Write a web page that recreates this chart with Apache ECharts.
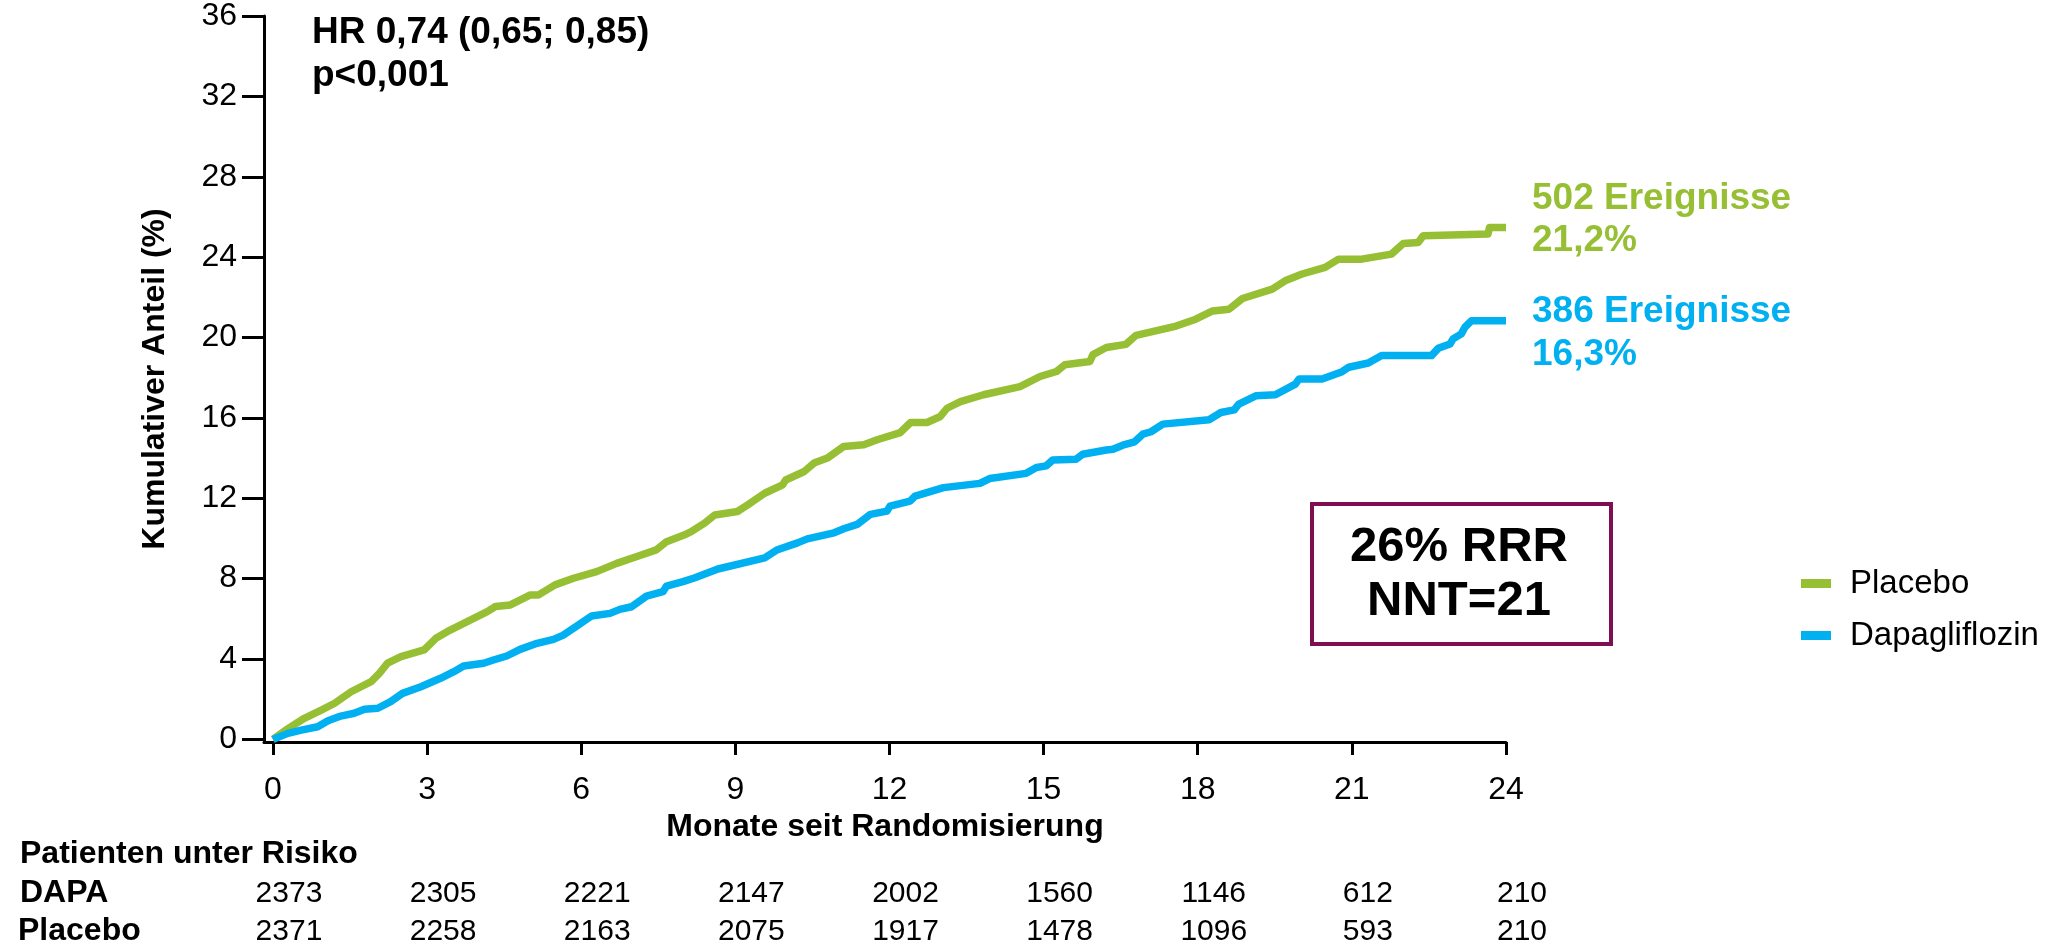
<!DOCTYPE html>
<html>
<head>
<meta charset="utf-8">
<script src="https://cdn.jsdelivr.net/npm/echarts@6/dist/echarts.min.js"></script>
<style>
  html, body { margin: 0; padding: 0; background: #ffffff; }
  #chart { width: 2054px; height: 947px; }
</style>
</head>
<body>
<div id="chart"></div>
<script>
// Tick positions on both axes
const monthTicks = [0, 3, 6, 9, 12, 15, 18, 21, 24];
const percentTicks = [0, 4, 8, 12, 16, 20, 24, 28, 32, 36];

// Cumulative incidence (%) over months since randomisation: [month, percent]
const placeboCurve = [
  [0, 0], [0.3, 0.55], [0.61, 1.05], [0.94, 1.46], [1.2, 1.8], [1.52, 2.37], [1.91, 2.87],
  [2.07, 3.29], [2.23, 3.79], [2.49, 4.12], [2.94, 4.45], [3.17, 5.03], [3.39, 5.36],
  [3.78, 5.86], [4.17, 6.36], [4.33, 6.61], [4.62, 6.69], [5.01, 7.19], [5.17, 7.19],
  [5.49, 7.69], [5.85, 8.02], [6.3, 8.35], [6.69, 8.76], [7.07, 9.09], [7.46, 9.43],
  [7.66, 9.84], [8.0, 10.17], [8.14, 10.34], [8.4, 10.76], [8.6, 11.17], [9.04, 11.34],
  [9.24, 11.67], [9.57, 12.25], [9.92, 12.67], [9.98, 12.91], [10.34, 13.33], [10.53, 13.75],
  [10.79, 14.0], [11.11, 14.58], [11.5, 14.66], [11.76, 14.91], [12.21, 15.27], [12.41, 15.77],
  [12.73, 15.77], [12.99, 16.07], [13.12, 16.48], [13.38, 16.81], [13.83, 17.15], [14.54, 17.56],
  [14.93, 18.06], [15.25, 18.31], [15.41, 18.64], [15.9, 18.81], [15.96, 19.15], [16.22, 19.5],
  [16.6, 19.66], [16.8, 20.11], [17.58, 20.57], [17.96, 20.91], [18.29, 21.32], [18.61, 21.41],
  [18.87, 21.94], [19.45, 22.41], [19.7, 22.82], [20.03, 23.16], [20.48, 23.49], [20.74, 23.9],
  [21.19, 23.9], [21.77, 24.15], [22.0, 24.68], [22.29, 24.73], [22.39, 25.07], [23.65, 25.15],
  [23.68, 25.48], [24.0, 25.48]
];
const dapaCurve = [
  [0, 0], [0.29, 0.3], [0.55, 0.46], [0.87, 0.63], [1.07, 0.93], [1.32, 1.16], [1.58, 1.3],
  [1.78, 1.5], [2.04, 1.55], [2.29, 1.88], [2.52, 2.29], [2.88, 2.62], [3.26, 3.04], [3.52, 3.37],
  [3.71, 3.65], [4.1, 3.79], [4.29, 3.95], [4.55, 4.15], [4.81, 4.48], [5.14, 4.78], [5.46, 4.98],
  [5.65, 5.19], [5.91, 5.64], [6.2, 6.14], [6.56, 6.27], [6.75, 6.47], [6.98, 6.6], [7.27, 7.13],
  [7.59, 7.35], [7.66, 7.63], [7.98, 7.85], [8.2, 8.03], [8.66, 8.48], [9.57, 9.03], [9.82, 9.44],
  [10.21, 9.78], [10.4, 9.98], [10.92, 10.28], [11.11, 10.48], [11.37, 10.7], [11.63, 11.2],
  [11.95, 11.36], [12.01, 11.61], [12.4, 11.86], [12.5, 12.11], [13.05, 12.53], [13.76, 12.74],
  [13.95, 12.98], [14.66, 13.24], [14.86, 13.53], [15.05, 13.61], [15.18, 13.91], [15.63, 13.94],
  [15.76, 14.19], [16.22, 14.4], [16.35, 14.44], [16.54, 14.64], [16.77, 14.81], [16.93, 15.19],
  [17.09, 15.31], [17.32, 15.69], [18.22, 15.91], [18.45, 16.27], [18.71, 16.4], [18.8, 16.69],
  [19.13, 17.1], [19.51, 17.15], [19.9, 17.68], [19.97, 17.93], [20.42, 17.93], [20.81, 18.3],
  [20.94, 18.52], [21.32, 18.73], [21.58, 19.1], [22.55, 19.1], [22.68, 19.46], [22.91, 19.68],
  [22.97, 19.93], [23.13, 20.18], [23.2, 20.51], [23.33, 20.84], [24.0, 20.84]
];

// Patients at risk at each tick month
const dapaAtRisk = [2373, 2305, 2221, 2147, 2002, 1560, 1146, 612, 210];
const placeboAtRisk = [2371, 2258, 2163, 2075, 1917, 1478, 1096, 593, 210];

const seriesNames = ['Placebo', 'Dapagliflozin'];
const GREEN = '#96bf33';
const BLUE = '#00b0f0';
const FONT = '"Liberation Sans", Arial, Helvetica, sans-serif';
const NARROW = '"Liberation Sans Narrow", "Arial Narrow", "Liberation Sans", Arial, sans-serif';

const chart = echarts.init(document.getElementById('chart'), null, { renderer: 'canvas' });

const axisLineStyle = { color: '#000', width: 3 };

chart.setOption({
  animation: false,
  backgroundColor: '#ffffff',
  textStyle: { fontFamily: FONT },
  grid: { left: 264, right: 548, top: 15, bottom: 205, containLabel: false },
  xAxis: {
    type: 'value',
    min: -0.175,
    max: 24,
    name: 'Monate seit Randomisierung',
    nameLocation: 'middle',
    nameGap: 68,
    nameTextStyle: { fontFamily: FONT, fontSize: 32, fontWeight: 'bold', color: '#000' },
    axisLine: { show: true, onZero: false, lineStyle: axisLineStyle },
    axisTick: { show: true, length: 13, lineStyle: axisLineStyle, customValues: monthTicks },
    axisLabel: { show: true, customValues: monthTicks, margin: 32, fontSize: 32, color: '#000', fontFamily: NARROW },
    splitLine: { show: false }
  },
  yAxis: {
    type: 'value',
    min: -0.13,
    max: 36,
    name: 'Kumulativer Anteil (%)',
    nameLocation: 'middle',
    nameGap: 93,
    nameTextStyle: { fontFamily: FONT, fontSize: 32, fontWeight: 'bold', color: '#000' },
    axisLine: { show: true, onZero: false, lineStyle: axisLineStyle },
    axisTick: { show: true, length: 22, lineStyle: axisLineStyle, customValues: percentTicks },
    axisLabel: { show: true, customValues: percentTicks, margin: 27, fontSize: 32, color: '#000', fontFamily: NARROW },
    splitLine: { show: false }
  },
  legend: {
    data: seriesNames,
    orient: 'vertical',
    left: 1796,
    top: 562,
    itemWidth: 30,
    itemHeight: 9,
    itemGap: 19,
    icon: 'rect',
    textStyle: { fontFamily: NARROW, fontSize: 33, color: '#000', padding: [0, 0, 0, 14] }
  },
  series: [
    {
      name: seriesNames[0],
      type: 'line',
      data: placeboCurve,
      showSymbol: false,
      color: GREEN,
      lineStyle: { color: GREEN, width: 7.5, join: 'round' },
      z: 2
    },
    {
      name: seriesNames[1],
      type: 'line',
      data: dapaCurve,
      showSymbol: false,
      color: BLUE,
      lineStyle: { color: BLUE, width: 7.5, join: 'round' },
      z: 3
    }
  ]
});

// Annotations and the patients-at-risk table
const bold = (size, color) => ({ fontFamily: FONT, fontSize: size, fontWeight: 'bold', fill: color || '#000' });
const graphics = [
  { type: 'text', left: 312, top: 14, style: Object.assign({ text: 'HR 0,74 (0,65; 0,85)' }, bold(37)) },
  { type: 'text', left: 312, top: 57, style: Object.assign({ text: 'p<0,001' }, bold(37)) },
  { type: 'text', left: 1532, top: 180, style: Object.assign({ text: '502 Ereignisse' }, bold(37, GREEN)) },
  { type: 'text', left: 1532, top: 222, style: Object.assign({ text: '21,2%' }, bold(37, GREEN)) },
  { type: 'text', left: 1532, top: 293, style: Object.assign({ text: '386 Ereignisse' }, bold(37, BLUE)) },
  { type: 'text', left: 1532, top: 336, style: Object.assign({ text: '16,3%' }, bold(37, BLUE)) },
  {
    type: 'rect', left: 1310, top: 502,
    shape: { width: 299, height: 140 },
    style: { fill: '#ffffff', stroke: '#7f0f50', lineWidth: 4 }
  },
  { type: 'text', x: 1459, y: 547, style: Object.assign({ text: '26% RRR', align: 'center', verticalAlign: 'middle' }, bold(49)) },
  { type: 'text', x: 1459, y: 601, style: Object.assign({ text: 'NNT=21', align: 'center', verticalAlign: 'middle' }, bold(49)) },
  { type: 'text', x: 20, y: 854, style: Object.assign({ text: 'Patienten unter Risiko', verticalAlign: 'middle' }, bold(32)) },
  { type: 'text', x: 20, y: 893, style: Object.assign({ text: 'DAPA', verticalAlign: 'middle' }, bold(32)) },
  { type: 'text', x: 18, y: 931, style: Object.assign({ text: 'Placebo', verticalAlign: 'middle' }, bold(32)) }
];

monthTicks.forEach(function (m, i) {
  const px = chart.convertToPixel({ xAxisIndex: 0 }, m) + 16;
  graphics.push({ type: 'text', x: px, y: 894,
    style: { text: String(dapaAtRisk[i]), align: 'center', verticalAlign: 'middle', fontFamily: NARROW, fontSize: 30, fill: '#000' } });
  graphics.push({ type: 'text', x: px, y: 932,
    style: { text: String(placeboAtRisk[i]), align: 'center', verticalAlign: 'middle', fontFamily: NARROW, fontSize: 30, fill: '#000' } });
});

chart.setOption({ graphic: graphics });
</script>
</body>
</html>
